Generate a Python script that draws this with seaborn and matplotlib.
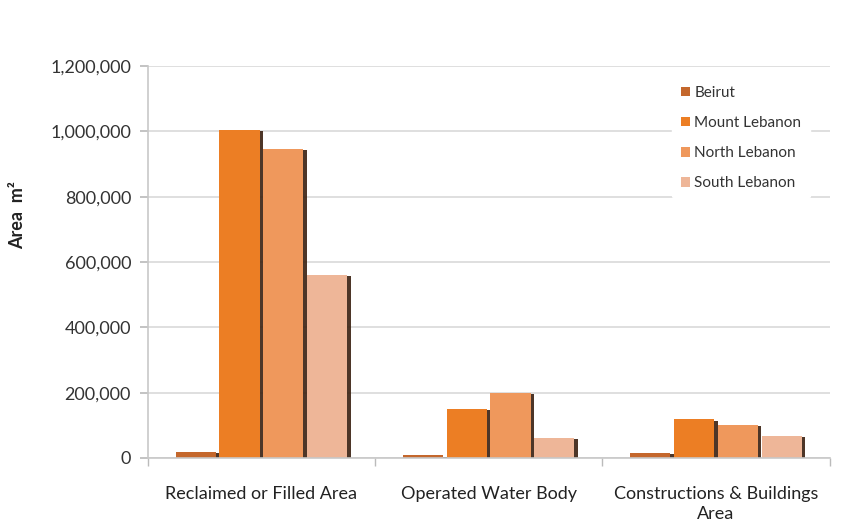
import pandas as pd
import seaborn as sns
import matplotlib.pyplot as plt
import matplotlib.patheffects as pe
from matplotlib.ticker import FuncFormatter, FixedLocator

# data
categories = ['Reclaimed or Filled Area', 'Operated Water Body', 'Constructions & Buildings\nArea']
regions = ['Beirut', 'Mount Lebanon', 'North Lebanon', 'South Lebanon']
beirut = [18000, 8000, 15000]
mount_lebanon = [1004000, 150000, 119000]
north_lebanon = [946000, 199000, 101000]
south_lebanon = [560000, 61000, 67000]

colors = ['#c4672c', '#ec7e24', '#ef985c', '#eeb698']

rows = []
for region, vals in zip(regions, [beirut, mount_lebanon, north_lebanon, south_lebanon]):
    for cat, v in zip(categories, vals):
        rows.append({'category': cat, 'region': region, 'area': v})
df = pd.DataFrame(rows)

sns.set_theme(style='white')
plt.rcParams['font.family'] = ['Lato', 'DejaVu Sans']

fig = plt.figure(figsize=(8.44, 5.28), dpi=100)
ax = fig.add_axes([0.175, 0.1326, 0.808, 0.7424])

sns.barplot(data=df, x='category', y='area', hue='region', hue_order=regions,
            order=categories, palette=colors, width=0.77, gap=0.08,
            saturation=1, ax=ax, edgecolor='none')

ax.set_ylim(0, 1200000)
ax.set_xlim(-0.5, 2.5)
ax.yaxis.set_major_formatter(FuncFormatter(lambda v, _: f'{int(v):,}'))
ax.set_yticks(range(0, 1200001, 200000))
ax.yaxis.grid(True, color='#d9d9d9', linewidth=1.2)
ax.set_axisbelow(True)

ax.set_xlabel('')
ax.set_ylabel('Area  m²', fontsize=13, fontweight='bold', color='#222222')
ax.yaxis.set_label_coords(-0.178, 0.62)
ax.tick_params(axis='y', labelsize=13, colors='#333333', length=6, left=True, color='#bbbbbb', pad=6)
ax.tick_params(axis='x', labelsize=13, colors='#222222', length=0, pad=20)
for lbl in ax.get_xticklabels():
    lbl.set_linespacing(1.35)
ax.xaxis.set_minor_locator(FixedLocator([-0.5, 0.5, 1.5, 2.5]))
ax.tick_params(axis='x', which='minor', length=6, color='#bbbbbb', bottom=True)

for side in ['top', 'right']:
    ax.spines[side].set_visible(False)
for side in ['left', 'bottom']:
    ax.spines[side].set_color('#c8c8c8')
    ax.spines[side].set_linewidth(1.2)

leg = ax.legend(loc='upper right', bbox_to_anchor=(0.982, 0.99), frameon=True,
                fontsize=11, handlelength=0.6, handleheight=0.6, handletextpad=0.3,
                labelspacing=1.05, borderpad=0.55)
leg.get_frame().set_facecolor('white')
leg.get_frame().set_edgecolor('white')
leg.get_frame().set_alpha(1)
for t in leg.get_texts():
    t.set_color('#333333')

# dark shadow on the right edge of each bar (after the legend so the handles stay plain)
for p in ax.patches:
    p.set_path_effects([pe.SimplePatchShadow(offset=(2.5, -1), shadow_rgbFace='#3a2010', alpha=0.9),
                        pe.Normal()])

fig.savefig('out.png', dpi=100)
